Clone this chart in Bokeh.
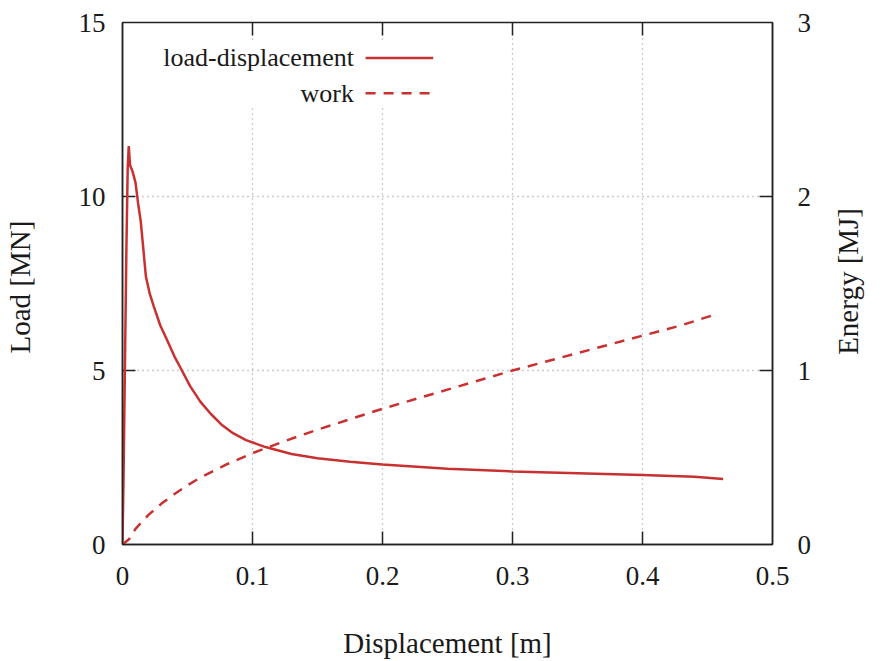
import math
from bokeh.plotting import figure
from bokeh.models import (Range1d, LinearAxis, FixedTicker, BoxAnnotation, Label, Arrow)
from bokeh.embed import file_html
from bokeh.resources import INLINE

# ---- data ----
disp_load = [0.0, 0.001, 0.002, 0.003, 0.004, 0.0048, 0.0058, 0.0075, 0.010, 0.012,
             0.014, 0.016, 0.018, 0.021, 0.024, 0.029, 0.034, 0.040, 0.045, 0.052,
             0.060, 0.068, 0.076, 0.085, 0.095, 0.110, 0.130, 0.150, 0.175, 0.200,
             0.250, 0.300, 0.350, 0.400, 0.440, 0.462]
load_mn = [0.0, 2.5, 5.5, 8.5, 10.8, 11.45, 10.9, 10.75, 10.4, 9.8,
           9.3, 8.5, 7.7, 7.2, 6.85, 6.3, 5.9, 5.4, 5.05, 4.55,
           4.1, 3.75, 3.45, 3.2, 3.0, 2.8, 2.6, 2.48, 2.38, 2.3,
           2.18, 2.1, 2.05, 2.0, 1.95, 1.88]

disp_work = [0.0, 0.005, 0.01, 0.02, 0.03, 0.04, 0.05, 0.06, 0.08, 0.10,
             0.125, 0.15, 0.175, 0.20, 0.25, 0.30, 0.35, 0.40, 0.43, 0.455]
work_mj = [0.0, 0.03, 0.09, 0.17, 0.235, 0.29, 0.34, 0.385, 0.46, 0.525,
           0.595, 0.66, 0.72, 0.78, 0.89, 1.0, 1.1, 1.2, 1.26, 1.32]

x_ticks = [0, 0.1, 0.2, 0.3, 0.4, 0.5]
x_tick_labels = ["0", "0.1", "0.2", "0.3", "0.4", "0.5"]
y_ticks = [0, 5, 10, 15]
e_ticks = [0, 1, 2, 3]

series_names = ["load-displacement", "work"]
energy_title = "Energy [MJ]"

RED = "#c93030"
FONT = "Liberation Serif"
TXT = "#1a1a1a"
AX = "#222222"

W, H = 883, 661
ML, MR, MT, MB = 121, 110, 22, 116
X0, X1, Y0, Y1, E0, E1 = 0, 0.5, 0, 15, 0, 3

p = figure(width=W, height=H, output_backend="svg", toolbar_location=None,
           x_range=Range1d(X0, X1), y_range=Range1d(Y0, Y1),
           min_border_left=ML, min_border_right=MR, min_border_top=MT,
           min_border_bottom=MB)
p.background_fill_color = "white"
p.border_fill_color = "white"
p.outline_line_color = AX
p.outline_line_width = 1.5
p.extra_y_ranges = {"energy": Range1d(E0, E1)}

def style_axis(ax, size="27px"):
    ax.axis_line_color = AX
    ax.axis_line_width = 1.5
    ax.major_tick_in = 0
    ax.major_tick_out = 0
    ax.major_tick_line_color = None
    ax.minor_tick_line_color = None
    ax.major_label_text_font = FONT
    ax.major_label_text_font_size = size
    ax.major_label_text_color = TXT
    ax.axis_label_text_font = FONT
    ax.axis_label_text_font_size = "29px"
    ax.axis_label_text_font_style = "normal"
    ax.axis_label_text_color = TXT

# bottom axis
xa = p.xaxis[0]
xa.ticker = FixedTicker(ticks=x_ticks)
xa.major_label_overrides = {t: s for t, s in zip(x_ticks, x_tick_labels)}
xa.axis_label = "Displacement [m]"
style_axis(xa)
xa.major_label_standoff = 22
xa.axis_label_standoff = 39

# left axis
ya = p.yaxis[0]
ya.ticker = FixedTicker(ticks=y_ticks)
ya.axis_label = "Load  [MN]"
style_axis(ya)
ya.major_label_standoff = 17
ya.axis_label_standoff = 40

frame_w = W - ML - MR
frame_h = H - MT - MB

# right axis: tick labels only
ra = LinearAxis(y_range_name="energy", ticker=FixedTicker(ticks=e_ticks))
style_axis(ra)
ra.major_label_standoff = 25
p.add_layout(ra, "right")

# second right axis carrying the title as a single rotated label that reads
# bottom-to-top; rotated text grows upward from its anchor, so the anchor is
# placed half the text length below the middle of the frame
label_len_px = 144
anchor = round((E0 + E1) / 2 - (E1 - E0) * (label_len_px / 2) / frame_h, 2)
rl = LinearAxis(y_range_name="energy", ticker=FixedTicker(ticks=[anchor]))
style_axis(rl, size="29px")
rl.axis_line_color = None
rl.major_label_overrides = {anchor: energy_title}
rl.major_label_orientation = math.pi / 2
rl.major_label_standoff = 34
p.add_layout(rl, "right")

# inward ticks on all four sides (gnuplot style), built from the tick lists
TICK = 13
dx = (X1 - X0) * TICK / frame_w
dy = (Y1 - Y0) * TICK / frame_h
inner_x = x_ticks[1:-1]
p.segment(x0=inner_x, y0=[Y0] * len(inner_x), x1=inner_x, y1=[Y0 + dy] * len(inner_x),
          line_color=AX, line_width=1.5)
p.segment(x0=inner_x, y0=[Y1] * len(inner_x), x1=inner_x, y1=[Y1 - dy] * len(inner_x),
          line_color=AX, line_width=1.5)
inner_y = y_ticks[1:-1]
p.segment(x0=[X0] * len(inner_y), y0=inner_y, x1=[X0 + dx] * len(inner_y), y1=inner_y,
          line_color=AX, line_width=1.5)
inner_e = e_ticks[1:-1]
p.segment(x0=[X1] * len(inner_e), y0=inner_e, x1=[X1 - dx] * len(inner_e), y1=inner_e,
          y_range_name="energy", line_color=AX, line_width=1.5)

# grid
for g in (p.xgrid[0], p.ygrid[0]):
    g.grid_line_color = "#9a9a9a"
    g.grid_line_dash = "1 4"
    g.grid_line_width = 1.3
p.xgrid[0].ticker = FixedTicker(ticks=inner_x)
p.ygrid[0].ticker = FixedTicker(ticks=inner_y)

# series
p.line(disp_load, load_mn, line_color=RED, line_width=2.5)
p.line(disp_work, work_mj, y_range_name="energy", line_color=RED,
       line_width=2.5, line_dash="10 8")

# legend (text left of sample, gnuplot style)
p.add_layout(BoxAnnotation(left=0.022, right=0.248, bottom=12.55, top=14.45,
                           fill_color="white", fill_alpha=1.0, line_color=None))
leg_y = [13.98, 12.97]
leg_dash = ["solid", "10 8"]
for name, yy, dash in zip(series_names, leg_y, leg_dash):
    p.add_layout(Label(x=0.178, y=yy, text=name, text_align="right",
                       text_baseline="middle", text_font=FONT,
                       text_font_size="26px", text_color=TXT))
    p.add_layout(Arrow(end=None, x_start=0.187, y_start=yy, x_end=0.239, y_end=yy,
                       line_color=RED, line_width=2.5, line_dash=dash))

open("out.html", "w").write(file_html(p, INLINE))
